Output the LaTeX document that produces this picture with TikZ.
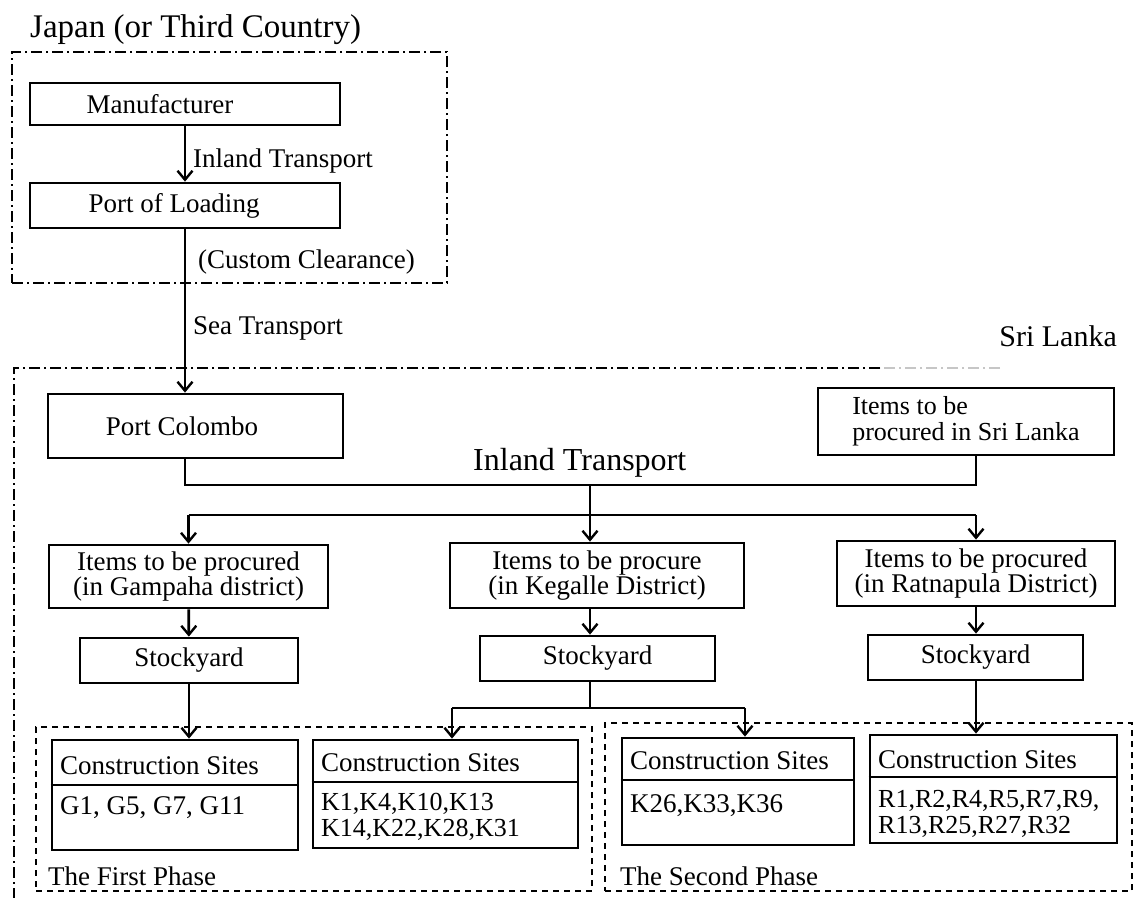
\documentclass[tikz,border=0pt]{standalone}
\usepackage{fontspec}
\setmainfont{Liberation Serif}
\usetikzlibrary{arrows.meta}
\begin{document}
\begin{tikzpicture}[x=1pt,y=-1pt,
  box/.style={draw,line width=2.8pt,inner sep=0pt,align=center,font=\fontsize{27}{20}\selectfont},
  conn/.style={line width=2.8pt},
  arr/.style={line width=2.8pt,-{Straight Barb[length=9pt,width=15pt,line width=2.4pt]}},
  lbl/.style={font=\fontsize{27}{20}\selectfont,inner sep=0pt,align=left},
  lst/.style={font=\fontsize{26}{26}\selectfont,inner sep=0pt,align=left},
  big/.style={font=\fontsize{32}{34}\selectfont,inner sep=0pt},
  regdash/.style={line width=1.8pt,dash pattern=on 11pt off 4pt on 2pt off 4pt},
  phase/.style={draw,line width=2.8pt,dash pattern=on 6pt off 5pt,inner sep=0pt},
  sep/.style={line width=1.6pt}]
\fill[white] (0,0) rectangle (1135,898);
\useasboundingbox (0,0) rectangle (1135,898);

% ---------- Japan ----------
\node[big,anchor=base west,font=\fontsize{33}{34}\selectfont] (tJ) at (30,37) {Japan (or Third Country)};
\node[draw,regdash,minimum width=435pt,minimum height=231pt,inner sep=0pt] (jreg) at (229.5,167.5) {};
\node[box,minimum width=310pt,minimum height=42pt] (man) at (185,104) {Manufacturer\rule{50pt}{0pt}};
\node[box,minimum width=310pt,minimum height=45pt] (pol) at (185,205.5) {Port of Loading\rule{22pt}{0pt}};
\node[lbl,anchor=base west] (l1) at (193,167) {Inland Transport};
\node[lbl,anchor=base west] (l2) at (198,268) {(Custom Clearance)};
\node[lbl,anchor=base west] (l3) at (193,334) {Sea Transport};

% ---------- Sri Lanka ----------
\node[big,anchor=base east,font=\fontsize{30}{32}\selectfont] (tS) at (1117,346) {Sri Lanka};
\coordinate (slc) at (14,368);
\draw[regdash] (880,368) -- (slc) -- (14,898);
\draw[regdash,gray!45] (1000,368) -- (880,368);

\node[box,minimum width=295pt,minimum height=64pt] (pc) at (195.5,426) {Port Colombo\rule{27pt}{0pt}};
\node[box,minimum width=296pt,minimum height=67pt,align=left,font=\fontsize{26}{26}\selectfont] (sli) at (966,421.5) {Items to be\\procured in Sri Lanka};
\node[big,anchor=base west] (it) at (473,470) {Inland Transport};

\node[box,minimum width=279pt,minimum height=63pt] (gam) at (188.5,576.5) {Items to be procured\\(in Gampaha district)};
\node[box,minimum width=294pt,minimum height=65pt] (keg) at (597,575.5) {Items to be procure\\(in Kegalle District)};
\node[box,minimum width=278pt,minimum height=65pt] (rat) at (976,573.5) {Items to be procured\\(in Ratnapula District)};

\node[box,minimum width=218pt,minimum height=45pt] (stG) at (189,660.5) {Stockyard};
\node[box,minimum width=235pt,minimum height=45pt] (stK) at (597.5,658.5) {Stockyard};
\node[box,minimum width=215pt,minimum height=45pt] (stR) at (975.5,657.5) {Stockyard};

% phases
\node[phase,minimum width=556pt,minimum height=164pt] (ph1) at (314,809) {};
\node[phase,minimum width=527pt,minimum height=168pt] (ph2) at (868.5,807) {};
\node[lbl,anchor=west] (ph1t) at (48,876) {The First Phase};
\node[lbl,anchor=west] (ph2t) at (620,876) {The Second Phase};

% construction sites
\node[box,minimum width=246pt,minimum height=110pt] (cs1) at (175,795) {};
\node[box,minimum width=265pt,minimum height=108pt] (cs2) at (445.5,794) {};
\node[box,minimum width=232pt,minimum height=107pt] (cs3) at (738,791.5) {};
\node[box,minimum width=247pt,minimum height=108pt] (cs4) at (993.5,789) {};
\coordinate (s1) at (0,785);
\coordinate (s2) at (0,782);
\coordinate (s3) at (0,780);
\coordinate (s4) at (0,777);
\draw[sep] (cs1.west |- s1) -- (cs1.east |- s1);
\draw[sep] (cs2.west |- s2) -- (cs2.east |- s2);
\draw[sep] (cs3.west |- s3) -- (cs3.east |- s3);
\draw[sep] (cs4.west |- s4) -- (cs4.east |- s4);
\node[lbl,anchor=west] (c1h) at (60,766) {Construction Sites};
\node[lbl,anchor=west] (c2h) at (321,763) {Construction Sites};
\node[lbl,anchor=west] (c3h) at (630,761) {Construction Sites};
\node[lbl,anchor=west] (c4h) at (878,760) {Construction Sites};
\node[lbl,anchor=west] (c1b) at (60,808) {G1, G5, G7, G11};
\node[lst,anchor=west] (c2b) at (321,817) {K1,K4,K10,K13\\K14,K22,K28,K31};
\node[lbl,anchor=west] (c3b) at (630,806) {K26,K33,K36};
\node[lst,anchor=west] (c4b) at (878,814) {R1,R2,R4,R5,R7,R9,\\R13,R25,R27,R32};

% ---------- connectors ----------
\coordinate (bus1) at (0,485);
\coordinate (bus2) at (0,515);
\coordinate (bus3) at (0,708);
\coordinate (kx) at (590,0);
\coordinate (kb1) at (452,0);
\coordinate (kb2) at (745,0);
\draw[arr] (man.south) -- (pol.north);
\draw[arr] (pol.south) -- (pol.south |- pc.north);
\draw[conn] (pc.south -| pol.south) -- (pol.south |- bus1) -- (rat.north |- bus1) -- (rat.north |- sli.south);
\draw[conn] (gam.north |- bus2) -- (rat.north |- bus2);
\draw[arr] (kx |- bus1) -- (kx |- keg.north);
\draw[arr] (gam.north |- bus2) -- (gam.north);
\draw[arr] (rat.north |- bus2) -- (rat.north);
\draw[arr] (gam) -- (stG);
\draw[arr] (kx |- keg.south) -- (kx |- stK.north);
\draw[arr] (rat) -- (rat.north |- stR.north);
\draw[arr] (stG.south) -- (stG.south |- cs1.north);
\draw[conn] (kx |- stK.south) -- (kx |- bus3);
\draw[conn] (kb1 |- bus3) -- (kb2 |- bus3);
\draw[arr] (kb1 |- bus3) -- (kb1 |- cs2.north);
\draw[arr] (kb2 |- bus3) -- (kb2 |- cs3.north);
\draw[arr] (rat.north |- stR.south) -- (rat.north |- cs4.north);
\end{tikzpicture}
\end{document}
